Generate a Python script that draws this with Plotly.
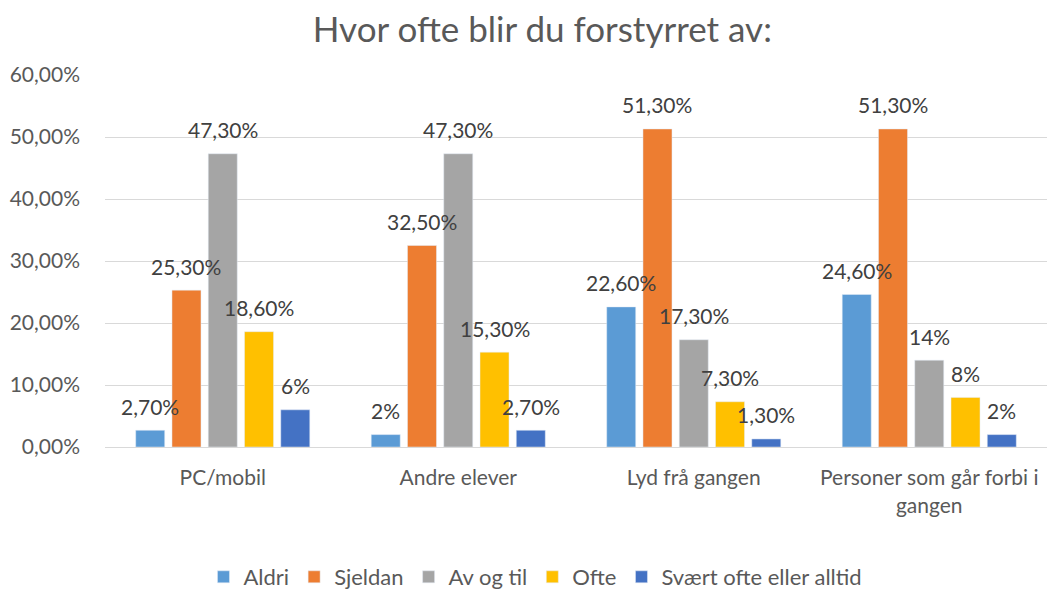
import plotly.graph_objects as go

categories = ["PC/mobil", "Andre elever", "Lyd frå gangen", "Personer som går forbi i<br>gangen"]
series_names = ["Aldri", "Sjeldan", "Av og til", "Ofte", "Svært ofte eller alltid"]
aldri = [2.7, 2.0, 22.6, 24.6]
sjeldan = [25.3, 32.5, 51.3, 51.3]
av_og_til = [47.3, 47.3, 17.3, 14.0]
ofte = [18.6, 15.3, 7.3, 8.0]
svaert = [6.0, 2.7, 1.3, 2.0]
labels_aldri = ["2,70%", "2%", "22,60%", "24,60%"]
labels_sjeldan = ["25,30%", "32,50%", "51,30%", "51,30%"]
labels_av = ["47,30%", "47,30%", "17,30%", "14%"]
labels_ofte = ["18,60%", "15,30%", "7,30%", "8%"]
labels_svaert = ["6%", "2,70%", "1,30%", "2%"]
y_ticks = [0, 10, 20, 30, 40, 50, 60]
y_tick_labels = ["0,00%", "10,00%", "20,00%", "30,00%", "40,00%", "50,00%", "60,00%"]

values = [aldri, sjeldan, av_og_til, ofte, svaert]
labels = [labels_aldri, labels_sjeldan, labels_av, labels_ofte, labels_svaert]
colors = ["#5B9BD5", "#ED7D31", "#A5A5A5", "#FFC000", "#4472C4"]

FONT = "Lato, Open Sans, sans-serif"
TXT = "#595959"

W, H = 1056, 590
ML, MR, MT, MB = 97, 17, 67, 151
BARGAP, GROUPGAP = 0.23, 0.2
plot_w = W - ML - MR
plot_h = H - MT - MB
cat_w = plot_w / len(categories)
slot = cat_w * (1 - BARGAP) / len(series_names)

fig = go.Figure()
annotations = []
for i, (name, vals, labs, col) in enumerate(zip(series_names, values, labels, colors)):
    fig.add_trace(go.Bar(
        x=categories, y=vals, name=name, marker_color=col,
        hoverinfo="skip",
    ))
    for cat, v, lab in zip(categories, vals, labs):
        annotations.append(dict(
            x=cat, y=v, xref="x", yref="y", text=lab, showarrow=False,
            xanchor="center", yanchor="middle",
            xshift=(i - (len(series_names) - 1) / 2) * slot, yshift=24,
            font=dict(family=FONT, size=21, color="#404040"),
        ))

fig.update_layout(
    width=W, height=H,
    paper_bgcolor="white", plot_bgcolor="white",
    margin=dict(l=ML, r=MR, t=MT, b=MB),
    barmode="group", bargap=BARGAP, bargroupgap=GROUPGAP,
    title=dict(text="Hvor ofte blir du forstyrret av:", x=0.506, xanchor="center",
               y=1 - 21.5 / H, yanchor="middle",
               font=dict(family=FONT, size=35, color=TXT)),
    font=dict(family=FONT, color=TXT),
    legend=dict(orientation="h", xref="container", yref="container",
                x=0.4995, xanchor="center", y=1 - 569 / H, yanchor="middle",
                font=dict(family=FONT, size=22, color=TXT), traceorder="normal"),
    showlegend=True,
    annotations=annotations,
)
fig.update_yaxes(range=[0, 60], tickvals=y_ticks, ticktext=y_tick_labels,
                 showgrid=True, gridcolor="#D9D9D9", gridwidth=1.3,
                 zeroline=False, showline=False, automargin=False,
                 tickfont=dict(family=FONT, size=21, color=TXT), ticks="", ticklen=0,
                 ticklabelstandoff=24)
fig.update_xaxes(showline=True, linecolor="#D9D9D9", linewidth=1.3, automargin=False,
                 tickfont=dict(family=FONT, size=21, color=TXT), ticks="",
                 ticklabelstandoff=12)

fig.write_html("out.html")
